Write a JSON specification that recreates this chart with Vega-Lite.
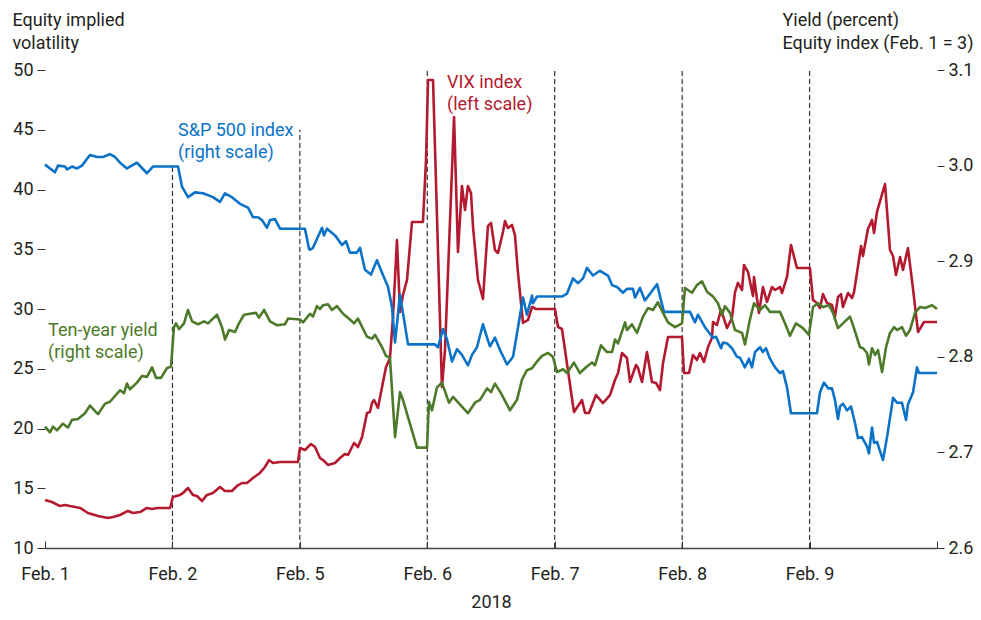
{
  "$schema": "https://vega.github.io/schema/vega-lite/v6.json",
  "width": 892,
  "height": 478,
  "autosize": "none",
  "padding": {"left": 45, "top": 70, "right": 44, "bottom": 72},
  "config": {
    "view": {"stroke": null},
    "font": "Roboto",
    "axis": {
      "labelFont": "Roboto",
      "titleFont": "Roboto",
      "labelFontSize": 18,
      "titleFontSize": 18,
      "labelColor": "#231f20",
      "titleColor": "#231f20",
      "titleFontWeight": "normal",
      "grid": false,
      "tickColor": "#333",
      "domainColor": "#444"
    }
  },
  "datasets": {
    "rules": [
      {"t": 1, "v": 10, "v2": 41.9},
      {"t": 2, "v": 10, "v2": 45.0},
      {"t": 3, "v": 10, "v2": 50},
      {"t": 4, "v": 10, "v2": 50},
      {"t": 5, "v": 10, "v2": 50},
      {"t": 6, "v": 10, "v2": 50}
    ],
    "vix": [
      {"t":0,"v":14.02},{"t":0.055,"v":13.85},{"t":0.118,"v":13.51},{"t":0.157,"v":13.6},{"t":0.196,"v":13.51},{"t":0.275,"v":13.35},{"t":0.337,"v":12.93},{"t":0.416,"v":12.68},{"t":0.494,"v":12.51},{"t":0.534,"v":12.59},{"t":0.589,"v":12.76},{"t":0.651,"v":13.1},{"t":0.691,"v":12.93},{"t":0.746,"v":13.01},{"t":0.8,"v":13.35},{"t":0.84,"v":13.26},{"t":0.879,"v":13.35},{"t":0.981,"v":13.35},
      {"t":1.004,"v":14.27},{"t":1.059,"v":14.44},{"t":1.083,"v":14.6},{"t":1.122,"v":15.02},{"t":1.161,"v":14.44},{"t":1.193,"v":14.35},{"t":1.232,"v":13.93},{"t":1.271,"v":14.44},{"t":1.318,"v":14.6},{"t":1.373,"v":15.1},{"t":1.412,"v":14.77},{"t":1.467,"v":14.77},{"t":1.507,"v":15.19},{"t":1.546,"v":15.44},{"t":1.585,"v":15.44},{"t":1.632,"v":15.86},{"t":1.687,"v":16.28},{"t":1.726,"v":16.78},{"t":1.758,"v":17.36},{"t":1.789,"v":17.11},{"t":1.844,"v":17.2},{"t":1.985,"v":17.2},
      {"t":2.001,"v":18.37},{"t":2.04,"v":18.2},{"t":2.087,"v":18.7},{"t":2.119,"v":18.45},{"t":2.158,"v":17.53},{"t":2.182,"v":17.36},{"t":2.221,"v":16.95},{"t":2.276,"v":17.11},{"t":2.315,"v":17.53},{"t":2.354,"v":17.87},{"t":2.378,"v":17.78},{"t":2.425,"v":18.79},{"t":2.456,"v":18.45},{"t":2.488,"v":19.29},{"t":2.527,"v":21.3},{"t":2.55,"v":21.38},{"t":2.566,"v":22.13},{"t":2.582,"v":22.38},{"t":2.613,"v":21.72},{"t":2.645,"v":23.47},{"t":2.676,"v":25.15},{"t":2.707,"v":25.9},{"t":2.731,"v":29.33},{"t":2.762,"v":35.77},{"t":2.786,"v":29.75},{"t":2.809,"v":31.17},{"t":2.841,"v":32.43},{"t":2.88,"v":37.28},{"t":2.966,"v":37.28},{"t":2.99,"v":42.47},
      {"t":3.006,"v":49.16},{"t":3.045,"v":49.16},{"t":3.115,"v":23.47},{"t":3.139,"v":26.57},{"t":3.21,"v":46.07},{"t":3.241,"v":34.77},{"t":3.272,"v":40.29},{"t":3.296,"v":38.28},{"t":3.319,"v":40.29},{"t":3.343,"v":39.71},{"t":3.359,"v":36.86},{"t":3.398,"v":32.43},{"t":3.437,"v":30.84},{"t":3.476,"v":36.94},{"t":3.5,"v":37.2},{"t":3.531,"v":34.94},{"t":3.555,"v":34.69},{"t":3.594,"v":36.44},{"t":3.61,"v":37.36},{"t":3.633,"v":36.78},{"t":3.665,"v":37.03},{"t":3.688,"v":36.19},{"t":3.712,"v":33.01},{"t":3.751,"v":28.83},{"t":3.79,"v":29.08},{"t":3.822,"v":30.17},{"t":3.853,"v":30.0},{"t":4.002,"v":30.0},
      {"t":4.026,"v":28.49},{"t":4.057,"v":28.33},{"t":4.151,"v":21.38},{"t":4.214,"v":22.38},{"t":4.238,"v":21.3},{"t":4.269,"v":21.3},{"t":4.324,"v":22.8},{"t":4.379,"v":22.13},{"t":4.434,"v":22.8},{"t":4.473,"v":24.06},{"t":4.497,"v":24.64},{"t":4.528,"v":26.32},{"t":4.567,"v":25.9},{"t":4.591,"v":23.89},{"t":4.638,"v":25.31},{"t":4.654,"v":25.06},{"t":4.685,"v":23.89},{"t":4.724,"v":26.4},{"t":4.763,"v":23.89},{"t":4.795,"v":23.81},{"t":4.826,"v":23.22},{"t":4.85,"v":25.48},{"t":4.889,"v":27.66},{"t":4.999,"v":27.66},
      {"t":5.014,"v":24.64},{"t":5.054,"v":24.64},{"t":5.085,"v":26.15},{"t":5.116,"v":25.73},{"t":5.14,"v":26.32},{"t":5.171,"v":25.56},{"t":5.203,"v":26.82},{"t":5.234,"v":27.57},{"t":5.242,"v":28.91},{"t":5.273,"v":28.66},{"t":5.305,"v":29.92},{"t":5.352,"v":28.41},{"t":5.391,"v":29.25},{"t":5.415,"v":31.42},{"t":5.438,"v":32.18},{"t":5.47,"v":31.59},{"t":5.485,"v":33.68},{"t":5.517,"v":33.1},{"t":5.556,"v":31.09},{"t":5.564,"v":32.68},{"t":5.603,"v":29.66},{"t":5.634,"v":31.84},{"t":5.666,"v":30.59},{"t":5.705,"v":31.84},{"t":5.729,"v":31.59},{"t":5.768,"v":31.84},{"t":5.784,"v":31.34},{"t":5.823,"v":32.68},{"t":5.854,"v":35.36},{"t":5.901,"v":33.43},{"t":6.003,"v":33.43},
      {"t":6.027,"v":30.75},{"t":6.058,"v":30.5},{"t":6.082,"v":30.08},{"t":6.105,"v":31.25},{"t":6.137,"v":30.5},{"t":6.176,"v":30.33},{"t":6.199,"v":29.33},{"t":6.223,"v":31.0},{"t":6.247,"v":31.25},{"t":6.262,"v":30.17},{"t":6.302,"v":31.34},{"t":6.333,"v":30.92},{"t":6.349,"v":31.42},{"t":6.372,"v":33.01},{"t":6.404,"v":35.27},{"t":6.419,"v":34.43},{"t":6.458,"v":36.69},{"t":6.49,"v":37.45},{"t":6.506,"v":36.36},{"t":6.529,"v":38.12},{"t":6.592,"v":40.46},{"t":6.631,"v":34.94},{"t":6.655,"v":34.43},{"t":6.678,"v":32.84},{"t":6.71,"v":34.35},{"t":6.733,"v":33.26},{"t":6.772,"v":35.1},{"t":6.812,"v":31.67},{"t":6.851,"v":28.07},{"t":6.898,"v":28.91},{"t":7.0,"v":28.91}
    ],
    "right": [
      {"s":"sp","t":0,"v":3.001},{"s":"sp","t":0.078,"v":2.993},{"s":"sp","t":0.102,"v":3.0},{"s":"sp","t":0.157,"v":2.999},{"s":"sp","t":0.173,"v":2.996},{"s":"sp","t":0.212,"v":2.999},{"s":"sp","t":0.251,"v":2.997},{"s":"sp","t":0.29,"v":3.0},{"s":"sp","t":0.353,"v":3.011},{"s":"sp","t":0.408,"v":3.009},{"s":"sp","t":0.455,"v":3.009},{"s":"sp","t":0.51,"v":3.012},{"s":"sp","t":0.549,"v":3.009},{"s":"sp","t":0.589,"v":3.003},{"s":"sp","t":0.643,"v":2.997},{"s":"sp","t":0.722,"v":3.003},{"s":"sp","t":0.8,"v":2.992},{"s":"sp","t":0.847,"v":2.999},{"s":"sp","t":1.004,"v":2.999},{"s":"sp","t":1.044,"v":2.999},{"s":"sp","t":1.075,"v":2.978},{"s":"sp","t":1.122,"v":2.967},{"s":"sp","t":1.177,"v":2.972},{"s":"sp","t":1.24,"v":2.971},{"s":"sp","t":1.318,"v":2.967},{"s":"sp","t":1.373,"v":2.962},{"s":"sp","t":1.412,"v":2.971},{"s":"sp","t":1.467,"v":2.967},{"s":"sp","t":1.53,"v":2.96},{"s":"sp","t":1.593,"v":2.956},{"s":"sp","t":1.632,"v":2.946},{"s":"sp","t":1.671,"v":2.946},{"s":"sp","t":1.703,"v":2.943},{"s":"sp","t":1.742,"v":2.935},{"s":"sp","t":1.766,"v":2.943},{"s":"sp","t":1.805,"v":2.944},{"s":"sp","t":1.844,"v":2.934},{"s":"sp","t":2.04,"v":2.934},{"s":"sp","t":2.072,"v":2.913},{"s":"sp","t":2.08,"v":2.912},{"s":"sp","t":2.103,"v":2.914},{"s":"sp","t":2.174,"v":2.935},{"s":"sp","t":2.189,"v":2.927},{"s":"sp","t":2.213,"v":2.934},{"s":"sp","t":2.276,"v":2.927},{"s":"sp","t":2.331,"v":2.917},{"s":"sp","t":2.362,"v":2.921},{"s":"sp","t":2.393,"v":2.909},{"s":"sp","t":2.448,"v":2.909},{"s":"sp","t":2.472,"v":2.914},{"s":"sp","t":2.511,"v":2.891},{"s":"sp","t":2.558,"v":2.886},{"s":"sp","t":2.605,"v":2.901},{"s":"sp","t":2.645,"v":2.888},{"s":"sp","t":2.692,"v":2.873},{"s":"sp","t":2.723,"v":2.852},{"s":"sp","t":2.747,"v":2.815},{"s":"sp","t":2.786,"v":2.865},{"s":"sp","t":2.849,"v":2.813},{"s":"sp","t":3.06,"v":2.813},{"s":"sp","t":3.084,"v":2.81},{"s":"sp","t":3.123,"v":2.829},{"s":"sp","t":3.155,"v":2.818},{"s":"sp","t":3.194,"v":2.795},{"s":"sp","t":3.233,"v":2.808},{"s":"sp","t":3.272,"v":2.802},{"s":"sp","t":3.319,"v":2.791},{"s":"sp","t":3.351,"v":2.802},{"s":"sp","t":3.39,"v":2.81},{"s":"sp","t":3.437,"v":2.834},{"s":"sp","t":3.469,"v":2.82},{"s":"sp","t":3.492,"v":2.811},{"s":"sp","t":3.531,"v":2.82},{"s":"sp","t":3.571,"v":2.807},{"s":"sp","t":3.626,"v":2.792},{"s":"sp","t":3.673,"v":2.8},{"s":"sp","t":3.712,"v":2.831},{"s":"sp","t":3.751,"v":2.862},{"s":"sp","t":3.782,"v":2.844},{"s":"sp","t":3.822,"v":2.864},{"s":"sp","t":3.829,"v":2.856},{"s":"sp","t":3.861,"v":2.863},{"s":"sp","t":4.057,"v":2.863},{"s":"sp","t":4.096,"v":2.866},{"s":"sp","t":4.143,"v":2.882},{"s":"sp","t":4.183,"v":2.877},{"s":"sp","t":4.222,"v":2.882},{"s":"sp","t":4.253,"v":2.893},{"s":"sp","t":4.3,"v":2.885},{"s":"sp","t":4.355,"v":2.89},{"s":"sp","t":4.418,"v":2.885},{"s":"sp","t":4.45,"v":2.875},{"s":"sp","t":4.489,"v":2.873},{"s":"sp","t":4.536,"v":2.867},{"s":"sp","t":4.567,"v":2.871},{"s":"sp","t":4.614,"v":2.871},{"s":"sp","t":4.63,"v":2.862},{"s":"sp","t":4.669,"v":2.872},{"s":"sp","t":4.708,"v":2.859},{"s":"sp","t":4.748,"v":2.866},{"s":"sp","t":4.803,"v":2.876},{"s":"sp","t":4.857,"v":2.847},{"s":"sp","t":5.061,"v":2.847},{"s":"sp","t":5.101,"v":2.836},{"s":"sp","t":5.124,"v":2.844},{"s":"sp","t":5.179,"v":2.831},{"s":"sp","t":5.242,"v":2.82},{"s":"sp","t":5.266,"v":2.821},{"s":"sp","t":5.305,"v":2.809},{"s":"sp","t":5.321,"v":2.815},{"s":"sp","t":5.352,"v":2.814},{"s":"sp","t":5.391,"v":2.809},{"s":"sp","t":5.43,"v":2.8},{"s":"sp","t":5.454,"v":2.799},{"s":"sp","t":5.493,"v":2.789},{"s":"sp","t":5.524,"v":2.798},{"s":"sp","t":5.548,"v":2.789},{"s":"sp","t":5.572,"v":2.805},{"s":"sp","t":5.611,"v":2.81},{"s":"sp","t":5.634,"v":2.805},{"s":"sp","t":5.658,"v":2.809},{"s":"sp","t":5.689,"v":2.798},{"s":"sp","t":5.729,"v":2.789},{"s":"sp","t":5.768,"v":2.783},{"s":"sp","t":5.791,"v":2.785},{"s":"sp","t":5.823,"v":2.768},{"s":"sp","t":5.854,"v":2.741},{"s":"sp","t":6.058,"v":2.741},{"s":"sp","t":6.082,"v":2.763},{"s":"sp","t":6.113,"v":2.773},{"s":"sp","t":6.145,"v":2.767},{"s":"sp","t":6.176,"v":2.767},{"s":"sp","t":6.199,"v":2.755},{"s":"sp","t":6.223,"v":2.735},{"s":"sp","t":6.239,"v":2.748},{"s":"sp","t":6.262,"v":2.751},{"s":"sp","t":6.294,"v":2.744},{"s":"sp","t":6.325,"v":2.748},{"s":"sp","t":6.356,"v":2.731},{"s":"sp","t":6.38,"v":2.715},{"s":"sp","t":6.411,"v":2.716},{"s":"sp","t":6.451,"v":2.706},{"s":"sp","t":6.466,"v":2.699},{"s":"sp","t":6.49,"v":2.726},{"s":"sp","t":6.506,"v":2.71},{"s":"sp","t":6.529,"v":2.711},{"s":"sp","t":6.576,"v":2.692},{"s":"sp","t":6.608,"v":2.716},{"s":"sp","t":6.655,"v":2.757},{"s":"sp","t":6.686,"v":2.752},{"s":"sp","t":6.725,"v":2.752},{"s":"sp","t":6.757,"v":2.734},{"s":"sp","t":6.772,"v":2.75},{"s":"sp","t":6.812,"v":2.763},{"s":"sp","t":6.843,"v":2.789},{"s":"sp","t":6.859,"v":2.783},{"s":"sp","t":7.0,"v":2.783},
      {"s":"yield","t":0,"v":2.727},{"s":"yield","t":0.039,"v":2.721},{"s":"yield","t":0.063,"v":2.727},{"s":"yield","t":0.094,"v":2.723},{"s":"yield","t":0.141,"v":2.73},{"s":"yield","t":0.18,"v":2.726},{"s":"yield","t":0.212,"v":2.734},{"s":"yield","t":0.259,"v":2.735},{"s":"yield","t":0.314,"v":2.741},{"s":"yield","t":0.353,"v":2.749},{"s":"yield","t":0.416,"v":2.74},{"s":"yield","t":0.471,"v":2.751},{"s":"yield","t":0.51,"v":2.753},{"s":"yield","t":0.549,"v":2.759},{"s":"yield","t":0.589,"v":2.765},{"s":"yield","t":0.62,"v":2.762},{"s":"yield","t":0.643,"v":2.772},{"s":"yield","t":0.667,"v":2.766},{"s":"yield","t":0.722,"v":2.773},{"s":"yield","t":0.761,"v":2.78},{"s":"yield","t":0.8,"v":2.779},{"s":"yield","t":0.84,"v":2.789},{"s":"yield","t":0.871,"v":2.778},{"s":"yield","t":0.91,"v":2.778},{"s":"yield","t":0.957,"v":2.788},{"s":"yield","t":0.989,"v":2.79},{"s":"yield","t":1.012,"v":2.831},{"s":"yield","t":1.028,"v":2.835},{"s":"yield","t":1.052,"v":2.829},{"s":"yield","t":1.091,"v":2.835},{"s":"yield","t":1.122,"v":2.849},{"s":"yield","t":1.154,"v":2.837},{"s":"yield","t":1.201,"v":2.834},{"s":"yield","t":1.248,"v":2.837},{"s":"yield","t":1.279,"v":2.835},{"s":"yield","t":1.35,"v":2.844},{"s":"yield","t":1.389,"v":2.831},{"s":"yield","t":1.413,"v":2.818},{"s":"yield","t":1.444,"v":2.828},{"s":"yield","t":1.491,"v":2.826},{"s":"yield","t":1.522,"v":2.835},{"s":"yield","t":1.562,"v":2.844},{"s":"yield","t":1.609,"v":2.845},{"s":"yield","t":1.656,"v":2.846},{"s":"yield","t":1.679,"v":2.841},{"s":"yield","t":1.719,"v":2.849},{"s":"yield","t":1.766,"v":2.837},{"s":"yield","t":1.821,"v":2.833},{"s":"yield","t":1.883,"v":2.834},{"s":"yield","t":1.907,"v":2.84},{"s":"yield","t":2.001,"v":2.839},{"s":"yield","t":2.025,"v":2.836},{"s":"yield","t":2.08,"v":2.845},{"s":"yield","t":2.103,"v":2.842},{"s":"yield","t":2.134,"v":2.853},{"s":"yield","t":2.158,"v":2.85},{"s":"yield","t":2.182,"v":2.854},{"s":"yield","t":2.221,"v":2.855},{"s":"yield","t":2.252,"v":2.849},{"s":"yield","t":2.291,"v":2.853},{"s":"yield","t":2.339,"v":2.845},{"s":"yield","t":2.393,"v":2.839},{"s":"yield","t":2.425,"v":2.835},{"s":"yield","t":2.456,"v":2.84},{"s":"yield","t":2.527,"v":2.821},{"s":"yield","t":2.566,"v":2.819},{"s":"yield","t":2.59,"v":2.823},{"s":"yield","t":2.645,"v":2.81},{"s":"yield","t":2.676,"v":2.801},{"s":"yield","t":2.707,"v":2.799},{"s":"yield","t":2.747,"v":2.716},{"s":"yield","t":2.786,"v":2.763},{"s":"yield","t":2.809,"v":2.755},{"s":"yield","t":2.919,"v":2.705},{"s":"yield","t":2.998,"v":2.705},{"s":"yield","t":3.013,"v":2.753},{"s":"yield","t":3.037,"v":2.744},{"s":"yield","t":3.076,"v":2.768},{"s":"yield","t":3.115,"v":2.773},{"s":"yield","t":3.17,"v":2.752},{"s":"yield","t":3.202,"v":2.758},{"s":"yield","t":3.272,"v":2.748},{"s":"yield","t":3.319,"v":2.741},{"s":"yield","t":3.374,"v":2.752},{"s":"yield","t":3.414,"v":2.755},{"s":"yield","t":3.469,"v":2.767},{"s":"yield","t":3.5,"v":2.763},{"s":"yield","t":3.531,"v":2.772},{"s":"yield","t":3.578,"v":2.762},{"s":"yield","t":3.649,"v":2.744},{"s":"yield","t":3.704,"v":2.755},{"s":"yield","t":3.743,"v":2.776},{"s":"yield","t":3.782,"v":2.786},{"s":"yield","t":3.822,"v":2.788},{"s":"yield","t":3.861,"v":2.795},{"s":"yield","t":3.9,"v":2.801},{"s":"yield","t":3.947,"v":2.804},{"s":"yield","t":3.986,"v":2.8},{"s":"yield","t":4.018,"v":2.784},{"s":"yield","t":4.065,"v":2.787},{"s":"yield","t":4.096,"v":2.783},{"s":"yield","t":4.151,"v":2.794},{"s":"yield","t":4.198,"v":2.783},{"s":"yield","t":4.246,"v":2.789},{"s":"yield","t":4.293,"v":2.794},{"s":"yield","t":4.316,"v":2.791},{"s":"yield","t":4.363,"v":2.812},{"s":"yield","t":4.41,"v":2.805},{"s":"yield","t":4.45,"v":2.805},{"s":"yield","t":4.473,"v":2.818},{"s":"yield","t":4.497,"v":2.814},{"s":"yield","t":4.552,"v":2.836},{"s":"yield","t":4.567,"v":2.828},{"s":"yield","t":4.606,"v":2.834},{"s":"yield","t":4.646,"v":2.825},{"s":"yield","t":4.693,"v":2.842},{"s":"yield","t":4.732,"v":2.851},{"s":"yield","t":4.771,"v":2.849},{"s":"yield","t":4.81,"v":2.857},{"s":"yield","t":4.85,"v":2.846},{"s":"yield","t":4.889,"v":2.836},{"s":"yield","t":4.944,"v":2.831},{"s":"yield","t":4.999,"v":2.835},{"s":"yield","t":5.022,"v":2.872},{"s":"yield","t":5.077,"v":2.867},{"s":"yield","t":5.116,"v":2.875},{"s":"yield","t":5.156,"v":2.879},{"s":"yield","t":5.195,"v":2.868},{"s":"yield","t":5.242,"v":2.863},{"s":"yield","t":5.281,"v":2.856},{"s":"yield","t":5.313,"v":2.844},{"s":"yield","t":5.336,"v":2.853},{"s":"yield","t":5.375,"v":2.846},{"s":"yield","t":5.415,"v":2.828},{"s":"yield","t":5.47,"v":2.825},{"s":"yield","t":5.493,"v":2.813},{"s":"yield","t":5.532,"v":2.839},{"s":"yield","t":5.564,"v":2.856},{"s":"yield","t":5.611,"v":2.849},{"s":"yield","t":5.65,"v":2.854},{"s":"yield","t":5.689,"v":2.847},{"s":"yield","t":5.768,"v":2.847},{"s":"yield","t":5.807,"v":2.835},{"s":"yield","t":5.846,"v":2.822},{"s":"yield","t":5.893,"v":2.835},{"s":"yield","t":5.948,"v":2.83},{"s":"yield","t":5.995,"v":2.823},{"s":"yield","t":6.027,"v":2.852},{"s":"yield","t":6.066,"v":2.856},{"s":"yield","t":6.105,"v":2.852},{"s":"yield","t":6.152,"v":2.854},{"s":"yield","t":6.184,"v":2.846},{"s":"yield","t":6.223,"v":2.83},{"s":"yield","t":6.262,"v":2.835},{"s":"yield","t":6.317,"v":2.842},{"s":"yield","t":6.341,"v":2.833},{"s":"yield","t":6.396,"v":2.81},{"s":"yield","t":6.419,"v":2.809},{"s":"yield","t":6.451,"v":2.804},{"s":"yield","t":6.466,"v":2.792},{"s":"yield","t":6.49,"v":2.809},{"s":"yield","t":6.514,"v":2.802},{"s":"yield","t":6.537,"v":2.807},{"s":"yield","t":6.569,"v":2.784},{"s":"yield","t":6.6,"v":2.81},{"s":"yield","t":6.631,"v":2.825},{"s":"yield","t":6.663,"v":2.831},{"s":"yield","t":6.686,"v":2.828},{"s":"yield","t":6.725,"v":2.831},{"s":"yield","t":6.757,"v":2.822},{"s":"yield","t":6.788,"v":2.828},{"s":"yield","t":6.827,"v":2.846},{"s":"yield","t":6.866,"v":2.852},{"s":"yield","t":6.906,"v":2.851},{"s":"yield","t":6.961,"v":2.854},{"s":"yield","t":7.0,"v":2.85}
    ],
    "rightLabels": [
      {"s": "sp", "t": 1.044, "v": 3.031, "label": "S&P 500 index\n(right scale)"},
      {"s": "yield", "t": 0.024, "v": 2.822, "label": "Ten-year yield\n(right scale)"}
    ],
    "leftLabels": [
      {"t": 3.155, "v": 48.49, "label": "VIX index\n(left scale)"}
    ]
  },
  "encoding": {
    "x": {
      "field": "t",
      "type": "quantitative",
      "scale": {"domain": [0, 7], "nice": false, "zero": false},
      "axis": {
        "values": [0, 1, 2, 3, 4, 5, 6, 7],
        "labelExpr": "['Feb. 1','Feb. 2','Feb. 5','Feb. 6','Feb. 7','Feb. 8','Feb. 9',''][datum.value]",
        "tickSize": -7,
        "labelPadding": 24,
        "domainWidth": 1.5,
        "labelFlush": false,
        "title": "2018",
        "titlePadding": 10
      }
    }
  },
  "layer": [
    {
      "encoding": {
        "y": {
          "field": "v",
          "type": "quantitative",
          "scale": {"domain": [10, 50], "nice": false, "zero": false},
          "axis": {
            "orient": "left",
            "values": [10, 15, 20, 25, 30, 35, 40, 45, 50],
            "domain": false,
            "tickSize": 8,
            "labelPadding": 4,
            "title": ["Equity implied", "volatility"],
            "titleAngle": 0,
            "titleAlign": "left",
            "titleBaseline": "top",
            "titleLineHeight": 23,
            "titleX": -33,
            "titleY": -59
          }
        }
      },
      "layer": [
        {
          "data": {"name": "rules"},
          "mark": {"type": "rule", "color": "#333", "strokeWidth": 1.2, "strokeDash": [5, 3]},
          "encoding": {"y2": {"field": "v2"}}
        },
        {
          "data": {"name": "vix"},
          "mark": {"type": "line", "color": "#b3192f", "strokeWidth": 2.6, "strokeJoin": "round"}
        },
        {
          "data": {"name": "leftLabels"},
          "mark": {"type": "text", "align": "left", "baseline": "alphabetic", "fontSize": 18, "lineBreak": "\n", "lineHeight": 22, "color": "#b3192f", "font": "Roboto"},
          "encoding": {"text": {"field": "label"}}
        }
      ]
    },
    {
      "encoding": {
        "y": {
          "field": "v",
          "type": "quantitative",
          "scale": {"domain": [2.6, 3.1], "nice": false, "zero": false},
          "axis": {
            "orient": "right",
            "values": [2.6, 2.7, 2.8, 2.9, 3.0, 3.1],
            "format": ".1f",
            "domain": false,
            "tickSize": 7,
            "labelPadding": 4,
            "title": ["Yield (percent)", "Equity index (Feb. 1 = 3)"],
            "titleAngle": 0,
            "titleAlign": "left",
            "titleBaseline": "top",
            "titleLineHeight": 23,
            "titleX": -155,
            "titleY": -59
          }
        },
        "color": {
          "field": "s",
          "type": "nominal",
          "scale": {"domain": ["sp", "yield"], "range": ["#0a73c8", "#4d7a2a"]},
          "legend": null
        }
      },
      "layer": [
        {
          "data": {"name": "right"},
          "mark": {"type": "line", "strokeWidth": 2.6, "strokeJoin": "round"}
        },
        {
          "data": {"name": "rightLabels"},
          "mark": {"type": "text", "align": "left", "baseline": "alphabetic", "fontSize": 18, "lineBreak": "\n", "lineHeight": 22, "font": "Roboto"},
          "encoding": {"text": {"field": "label"}}
        }
      ]
    }
  ],
  "resolve": {"scale": {"y": "independent"}}
}
